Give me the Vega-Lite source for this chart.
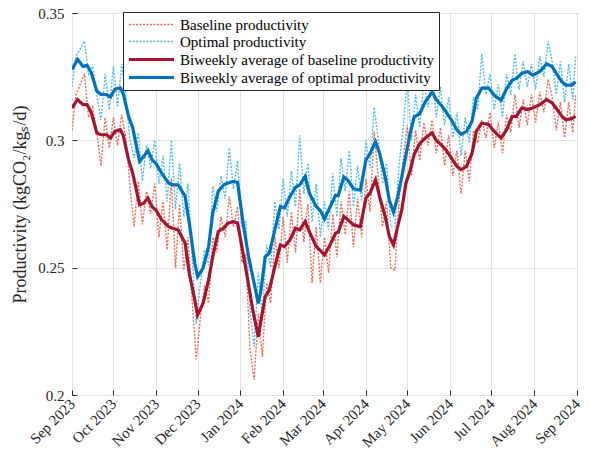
{
  "$schema": "https://vega.github.io/schema/vega-lite/v6.json",
  "autosize": {"type": "none"},
  "width": 505,
  "height": 382,
  "padding": {"left": 72, "top": 13, "right": 12, "bottom": 69},
  "background": "white",
  "config": {
    "font": "Liberation Serif",
    "view": {"stroke": "#262626", "strokeWidth": 1}
  },
  "datasets": {
    "daily": [
      {"date": "2023-09-01", "baseline": 0.304, "optimal": 0.321},
      {"date": "2023-09-04", "baseline": 0.318, "optimal": 0.333},
      {"date": "2023-09-07", "baseline": 0.322, "optimal": 0.336},
      {"date": "2023-09-10", "baseline": 0.326, "optimal": 0.339},
      {"date": "2023-09-13", "baseline": 0.309, "optimal": 0.326},
      {"date": "2023-09-16", "baseline": 0.313, "optimal": 0.329},
      {"date": "2023-09-19", "baseline": 0.303, "optimal": 0.318},
      {"date": "2023-09-22", "baseline": 0.290, "optimal": 0.308},
      {"date": "2023-09-25", "baseline": 0.309, "optimal": 0.326},
      {"date": "2023-09-28", "baseline": 0.297, "optimal": 0.312},
      {"date": "2023-10-01", "baseline": 0.309, "optimal": 0.329},
      {"date": "2023-10-04", "baseline": 0.298, "optimal": 0.313},
      {"date": "2023-10-07", "baseline": 0.310, "optimal": 0.330},
      {"date": "2023-10-10", "baseline": 0.301, "optimal": 0.318},
      {"date": "2023-10-13", "baseline": 0.282, "optimal": 0.300},
      {"date": "2023-10-16", "baseline": 0.266, "optimal": 0.293},
      {"date": "2023-10-19", "baseline": 0.284, "optimal": 0.303},
      {"date": "2023-10-22", "baseline": 0.267, "optimal": 0.284},
      {"date": "2023-10-25", "baseline": 0.280, "optimal": 0.298},
      {"date": "2023-10-28", "baseline": 0.271, "optimal": 0.289},
      {"date": "2023-10-31", "baseline": 0.283, "optimal": 0.300},
      {"date": "2023-11-03", "baseline": 0.262, "optimal": 0.283},
      {"date": "2023-11-06", "baseline": 0.276, "optimal": 0.294},
      {"date": "2023-11-09", "baseline": 0.257, "optimal": 0.276},
      {"date": "2023-11-12", "baseline": 0.285, "optimal": 0.300},
      {"date": "2023-11-15", "baseline": 0.250, "optimal": 0.273},
      {"date": "2023-11-18", "baseline": 0.275, "optimal": 0.291},
      {"date": "2023-11-21", "baseline": 0.249, "optimal": 0.270},
      {"date": "2023-11-24", "baseline": 0.262, "optimal": 0.283},
      {"date": "2023-11-27", "baseline": 0.238, "optimal": 0.255},
      {"date": "2023-11-30", "baseline": 0.214, "optimal": 0.228},
      {"date": "2023-12-03", "baseline": 0.230, "optimal": 0.244},
      {"date": "2023-12-06", "baseline": 0.243, "optimal": 0.257},
      {"date": "2023-12-09", "baseline": 0.236, "optimal": 0.251},
      {"date": "2023-12-12", "baseline": 0.262, "optimal": 0.282},
      {"date": "2023-12-15", "baseline": 0.256, "optimal": 0.272},
      {"date": "2023-12-18", "baseline": 0.270, "optimal": 0.286},
      {"date": "2023-12-21", "baseline": 0.262, "optimal": 0.277},
      {"date": "2023-12-24", "baseline": 0.278, "optimal": 0.297},
      {"date": "2023-12-27", "baseline": 0.266, "optimal": 0.281},
      {"date": "2023-12-30", "baseline": 0.274, "optimal": 0.292},
      {"date": "2024-01-02", "baseline": 0.252, "optimal": 0.266},
      {"date": "2024-01-05", "baseline": 0.255, "optimal": 0.268},
      {"date": "2024-01-08", "baseline": 0.218, "optimal": 0.233},
      {"date": "2024-01-11", "baseline": 0.206, "optimal": 0.219},
      {"date": "2024-01-14", "baseline": 0.232, "optimal": 0.248},
      {"date": "2024-01-17", "baseline": 0.215, "optimal": 0.231},
      {"date": "2024-01-20", "baseline": 0.244, "optimal": 0.259},
      {"date": "2024-01-23", "baseline": 0.236, "optimal": 0.250},
      {"date": "2024-01-26", "baseline": 0.262, "optimal": 0.276},
      {"date": "2024-01-29", "baseline": 0.250, "optimal": 0.265},
      {"date": "2024-02-01", "baseline": 0.270, "optimal": 0.285},
      {"date": "2024-02-04", "baseline": 0.252, "optimal": 0.270},
      {"date": "2024-02-07", "baseline": 0.272, "optimal": 0.288},
      {"date": "2024-02-10", "baseline": 0.256, "optimal": 0.274},
      {"date": "2024-02-13", "baseline": 0.281, "optimal": 0.302},
      {"date": "2024-02-16", "baseline": 0.260, "optimal": 0.279},
      {"date": "2024-02-19", "baseline": 0.275, "optimal": 0.291},
      {"date": "2024-02-22", "baseline": 0.244, "optimal": 0.268},
      {"date": "2024-02-25", "baseline": 0.266, "optimal": 0.283},
      {"date": "2024-02-28", "baseline": 0.244, "optimal": 0.262},
      {"date": "2024-03-02", "baseline": 0.262, "optimal": 0.276},
      {"date": "2024-03-05", "baseline": 0.248, "optimal": 0.265},
      {"date": "2024-03-08", "baseline": 0.271, "optimal": 0.287},
      {"date": "2024-03-11", "baseline": 0.254, "optimal": 0.270},
      {"date": "2024-03-14", "baseline": 0.276, "optimal": 0.293},
      {"date": "2024-03-17", "baseline": 0.263, "optimal": 0.280},
      {"date": "2024-03-20", "baseline": 0.280, "optimal": 0.296},
      {"date": "2024-03-23", "baseline": 0.258, "optimal": 0.274},
      {"date": "2024-03-26", "baseline": 0.277, "optimal": 0.290},
      {"date": "2024-03-29", "baseline": 0.262, "optimal": 0.276},
      {"date": "2024-04-01", "baseline": 0.285, "optimal": 0.300},
      {"date": "2024-04-04", "baseline": 0.272, "optimal": 0.289},
      {"date": "2024-04-07", "baseline": 0.3035, "optimal": 0.313},
      {"date": "2024-04-10", "baseline": 0.285, "optimal": 0.300},
      {"date": "2024-04-13", "baseline": 0.266, "optimal": 0.283},
      {"date": "2024-04-16", "baseline": 0.276, "optimal": 0.291},
      {"date": "2024-04-19", "baseline": 0.250, "optimal": 0.266},
      {"date": "2024-04-22", "baseline": 0.249, "optimal": 0.266},
      {"date": "2024-04-25", "baseline": 0.276, "optimal": 0.290},
      {"date": "2024-04-28", "baseline": 0.292, "optimal": 0.305},
      {"date": "2024-05-01", "baseline": 0.306, "optimal": 0.324},
      {"date": "2024-05-04", "baseline": 0.286, "optimal": 0.300},
      {"date": "2024-05-07", "baseline": 0.304, "optimal": 0.318},
      {"date": "2024-05-10", "baseline": 0.292, "optimal": 0.305},
      {"date": "2024-05-13", "baseline": 0.307, "optimal": 0.323},
      {"date": "2024-05-16", "baseline": 0.298, "optimal": 0.313},
      {"date": "2024-05-19", "baseline": 0.308, "optimal": 0.326},
      {"date": "2024-05-22", "baseline": 0.295, "optimal": 0.309},
      {"date": "2024-05-25", "baseline": 0.305, "optimal": 0.321},
      {"date": "2024-05-28", "baseline": 0.290, "optimal": 0.306},
      {"date": "2024-05-31", "baseline": 0.302, "optimal": 0.317},
      {"date": "2024-06-03", "baseline": 0.286, "optimal": 0.301},
      {"date": "2024-06-06", "baseline": 0.296, "optimal": 0.311},
      {"date": "2024-06-09", "baseline": 0.279, "optimal": 0.294},
      {"date": "2024-06-12", "baseline": 0.296, "optimal": 0.309},
      {"date": "2024-06-15", "baseline": 0.284, "optimal": 0.299},
      {"date": "2024-06-18", "baseline": 0.304, "optimal": 0.317},
      {"date": "2024-06-21", "baseline": 0.299, "optimal": 0.312},
      {"date": "2024-06-24", "baseline": 0.308, "optimal": 0.334},
      {"date": "2024-06-27", "baseline": 0.301, "optimal": 0.318},
      {"date": "2024-06-30", "baseline": 0.311, "optimal": 0.326},
      {"date": "2024-07-03", "baseline": 0.297, "optimal": 0.312},
      {"date": "2024-07-06", "baseline": 0.307, "optimal": 0.322},
      {"date": "2024-07-09", "baseline": 0.295, "optimal": 0.309},
      {"date": "2024-07-12", "baseline": 0.310, "optimal": 0.326},
      {"date": "2024-07-15", "baseline": 0.303, "optimal": 0.318},
      {"date": "2024-07-18", "baseline": 0.318, "optimal": 0.334},
      {"date": "2024-07-21", "baseline": 0.305, "optimal": 0.320},
      {"date": "2024-07-24", "baseline": 0.316, "optimal": 0.331},
      {"date": "2024-07-27", "baseline": 0.306, "optimal": 0.321},
      {"date": "2024-07-30", "baseline": 0.318, "optimal": 0.330},
      {"date": "2024-08-02", "baseline": 0.307, "optimal": 0.320},
      {"date": "2024-08-05", "baseline": 0.319, "optimal": 0.333},
      {"date": "2024-08-08", "baseline": 0.311, "optimal": 0.325},
      {"date": "2024-08-11", "baseline": 0.324, "optimal": 0.339},
      {"date": "2024-08-14", "baseline": 0.317, "optimal": 0.331},
      {"date": "2024-08-17", "baseline": 0.304, "optimal": 0.318},
      {"date": "2024-08-20", "baseline": 0.315, "optimal": 0.331},
      {"date": "2024-08-23", "baseline": 0.301, "optimal": 0.315},
      {"date": "2024-08-26", "baseline": 0.315, "optimal": 0.330},
      {"date": "2024-08-29", "baseline": 0.303, "optimal": 0.316},
      {"date": "2024-08-31", "baseline": 0.318, "optimal": 0.333}
    ],
    "avg": [
      {"date": "2023-09-01", "baseline_avg": 0.3127, "optimal_avg": 0.3278},
      {"date": "2023-09-05", "baseline_avg": 0.316, "optimal_avg": 0.3318},
      {"date": "2023-09-09", "baseline_avg": 0.314, "optimal_avg": 0.329},
      {"date": "2023-09-12", "baseline_avg": 0.314, "optimal_avg": 0.3294},
      {"date": "2023-09-15", "baseline_avg": 0.3108, "optimal_avg": 0.3265},
      {"date": "2023-09-19", "baseline_avg": 0.3029, "optimal_avg": 0.3193},
      {"date": "2023-09-22", "baseline_avg": 0.3022, "optimal_avg": 0.318},
      {"date": "2023-09-26", "baseline_avg": 0.3022, "optimal_avg": 0.318},
      {"date": "2023-09-29", "baseline_avg": 0.3009, "optimal_avg": 0.317},
      {"date": "2023-10-02", "baseline_avg": 0.3035, "optimal_avg": 0.32},
      {"date": "2023-10-06", "baseline_avg": 0.3042, "optimal_avg": 0.3206},
      {"date": "2023-10-08", "baseline_avg": 0.3022, "optimal_avg": 0.3186},
      {"date": "2023-10-12", "baseline_avg": 0.2924, "optimal_avg": 0.3094},
      {"date": "2023-10-15", "baseline_avg": 0.2871, "optimal_avg": 0.3049},
      {"date": "2023-10-20", "baseline_avg": 0.2747, "optimal_avg": 0.2917},
      {"date": "2023-10-23", "baseline_avg": 0.2753, "optimal_avg": 0.2937},
      {"date": "2023-10-26", "baseline_avg": 0.2773, "optimal_avg": 0.296},
      {"date": "2023-10-29", "baseline_avg": 0.274, "optimal_avg": 0.2924},
      {"date": "2023-11-01", "baseline_avg": 0.2725, "optimal_avg": 0.2908},
      {"date": "2023-11-05", "baseline_avg": 0.2688, "optimal_avg": 0.2871},
      {"date": "2023-11-10", "baseline_avg": 0.2661, "optimal_avg": 0.2832},
      {"date": "2023-11-13", "baseline_avg": 0.2655, "optimal_avg": 0.2825},
      {"date": "2023-11-17", "baseline_avg": 0.2648, "optimal_avg": 0.2825},
      {"date": "2023-11-22", "baseline_avg": 0.2596, "optimal_avg": 0.278},
      {"date": "2023-11-25", "baseline_avg": 0.2478, "optimal_avg": 0.2675},
      {"date": "2023-11-29", "baseline_avg": 0.2373, "optimal_avg": 0.2517},
      {"date": "2023-12-01", "baseline_avg": 0.2314, "optimal_avg": 0.2465},
      {"date": "2023-12-05", "baseline_avg": 0.236, "optimal_avg": 0.2498},
      {"date": "2023-12-09", "baseline_avg": 0.2452, "optimal_avg": 0.2583},
      {"date": "2023-12-12", "baseline_avg": 0.2543, "optimal_avg": 0.2714},
      {"date": "2023-12-16", "baseline_avg": 0.2642, "optimal_avg": 0.28},
      {"date": "2023-12-20", "baseline_avg": 0.2655, "optimal_avg": 0.2825},
      {"date": "2023-12-23", "baseline_avg": 0.2675, "optimal_avg": 0.2832},
      {"date": "2023-12-27", "baseline_avg": 0.2681, "optimal_avg": 0.2839},
      {"date": "2023-12-30", "baseline_avg": 0.2675, "optimal_avg": 0.2835},
      {"date": "2024-01-03", "baseline_avg": 0.2557, "optimal_avg": 0.2675},
      {"date": "2024-01-07", "baseline_avg": 0.2432, "optimal_avg": 0.2543},
      {"date": "2024-01-10", "baseline_avg": 0.2334, "optimal_avg": 0.2465},
      {"date": "2024-01-14", "baseline_avg": 0.2229, "optimal_avg": 0.236},
      {"date": "2024-01-16", "baseline_avg": 0.2294, "optimal_avg": 0.2412},
      {"date": "2024-01-19", "baseline_avg": 0.2386, "optimal_avg": 0.2543},
      {"date": "2024-01-22", "baseline_avg": 0.2412, "optimal_avg": 0.2557},
      {"date": "2024-01-26", "baseline_avg": 0.2504, "optimal_avg": 0.2648},
      {"date": "2024-01-30", "baseline_avg": 0.2589, "optimal_avg": 0.274},
      {"date": "2024-02-02", "baseline_avg": 0.2583, "optimal_avg": 0.2735},
      {"date": "2024-02-06", "baseline_avg": 0.2609, "optimal_avg": 0.278},
      {"date": "2024-02-10", "baseline_avg": 0.2655, "optimal_avg": 0.2815},
      {"date": "2024-02-13", "baseline_avg": 0.2648, "optimal_avg": 0.2825},
      {"date": "2024-02-17", "baseline_avg": 0.2681, "optimal_avg": 0.2858},
      {"date": "2024-02-20", "baseline_avg": 0.2642, "optimal_avg": 0.2793},
      {"date": "2024-02-25", "baseline_avg": 0.2583, "optimal_avg": 0.274},
      {"date": "2024-02-28", "baseline_avg": 0.2567, "optimal_avg": 0.2724},
      {"date": "2024-03-02", "baseline_avg": 0.255, "optimal_avg": 0.2692},
      {"date": "2024-03-06", "baseline_avg": 0.2589, "optimal_avg": 0.2738},
      {"date": "2024-03-10", "baseline_avg": 0.2635, "optimal_avg": 0.2784},
      {"date": "2024-03-12", "baseline_avg": 0.264, "optimal_avg": 0.2784},
      {"date": "2024-03-16", "baseline_avg": 0.2701, "optimal_avg": 0.2856},
      {"date": "2024-03-19", "baseline_avg": 0.2688, "optimal_avg": 0.2843},
      {"date": "2024-03-23", "baseline_avg": 0.2668, "optimal_avg": 0.281},
      {"date": "2024-03-28", "baseline_avg": 0.2661, "optimal_avg": 0.2804},
      {"date": "2024-04-01", "baseline_avg": 0.2773, "optimal_avg": 0.2922},
      {"date": "2024-04-04", "baseline_avg": 0.2793, "optimal_avg": 0.2948},
      {"date": "2024-04-08", "baseline_avg": 0.2845, "optimal_avg": 0.2994},
      {"date": "2024-04-11", "baseline_avg": 0.2777, "optimal_avg": 0.2948},
      {"date": "2024-04-15", "baseline_avg": 0.2701, "optimal_avg": 0.2856},
      {"date": "2024-04-18", "baseline_avg": 0.2622, "optimal_avg": 0.2764},
      {"date": "2024-04-21", "baseline_avg": 0.2589, "optimal_avg": 0.2718},
      {"date": "2024-04-24", "baseline_avg": 0.2661, "optimal_avg": 0.2777},
      {"date": "2024-04-27", "baseline_avg": 0.2727, "optimal_avg": 0.2856},
      {"date": "2024-04-30", "baseline_avg": 0.2832, "optimal_avg": 0.2942},
      {"date": "2024-05-03", "baseline_avg": 0.288, "optimal_avg": 0.3026},
      {"date": "2024-05-06", "baseline_avg": 0.2945, "optimal_avg": 0.3092},
      {"date": "2024-05-10", "baseline_avg": 0.2987, "optimal_avg": 0.3105},
      {"date": "2024-05-14", "baseline_avg": 0.3009, "optimal_avg": 0.3151},
      {"date": "2024-05-19", "baseline_avg": 0.3029, "optimal_avg": 0.319},
      {"date": "2024-05-22", "baseline_avg": 0.3, "optimal_avg": 0.316},
      {"date": "2024-05-26", "baseline_avg": 0.298, "optimal_avg": 0.3135},
      {"date": "2024-05-29", "baseline_avg": 0.2963, "optimal_avg": 0.3112},
      {"date": "2024-06-02", "baseline_avg": 0.293, "optimal_avg": 0.308},
      {"date": "2024-06-06", "baseline_avg": 0.2898, "optimal_avg": 0.304},
      {"date": "2024-06-09", "baseline_avg": 0.2885, "optimal_avg": 0.3024},
      {"date": "2024-06-13", "baseline_avg": 0.2898, "optimal_avg": 0.3035},
      {"date": "2024-06-17", "baseline_avg": 0.295, "optimal_avg": 0.3075},
      {"date": "2024-06-20", "baseline_avg": 0.3035, "optimal_avg": 0.3165},
      {"date": "2024-06-24", "baseline_avg": 0.3068, "optimal_avg": 0.3205},
      {"date": "2024-06-29", "baseline_avg": 0.3062, "optimal_avg": 0.3205},
      {"date": "2024-07-03", "baseline_avg": 0.3035, "optimal_avg": 0.3177},
      {"date": "2024-07-08", "baseline_avg": 0.3009, "optimal_avg": 0.3157},
      {"date": "2024-07-12", "baseline_avg": 0.3042, "optimal_avg": 0.3203},
      {"date": "2024-07-16", "baseline_avg": 0.3094, "optimal_avg": 0.3236},
      {"date": "2024-07-19", "baseline_avg": 0.3094, "optimal_avg": 0.3243},
      {"date": "2024-07-23", "baseline_avg": 0.3127, "optimal_avg": 0.3263},
      {"date": "2024-07-27", "baseline_avg": 0.3121, "optimal_avg": 0.327},
      {"date": "2024-07-31", "baseline_avg": 0.3127, "optimal_avg": 0.3256},
      {"date": "2024-08-05", "baseline_avg": 0.314, "optimal_avg": 0.327},
      {"date": "2024-08-10", "baseline_avg": 0.316, "optimal_avg": 0.33},
      {"date": "2024-08-14", "baseline_avg": 0.3147, "optimal_avg": 0.329},
      {"date": "2024-08-17", "baseline_avg": 0.3125, "optimal_avg": 0.3263},
      {"date": "2024-08-21", "baseline_avg": 0.3095, "optimal_avg": 0.323},
      {"date": "2024-08-24", "baseline_avg": 0.3081, "optimal_avg": 0.3217},
      {"date": "2024-08-28", "baseline_avg": 0.3085, "optimal_avg": 0.3217},
      {"date": "2024-08-31", "baseline_avg": 0.3094, "optimal_avg": 0.323}
    ]
  },
  "encoding": {
    "x": {
      "field": "date",
      "type": "temporal",
      "scale": {
        "type": "utc",
        "domain": [
          {"year": 2023, "month": 9, "date": 1, "utc": true},
          {"year": 2024, "month": 9, "date": 1, "utc": true}
        ],
        "nice": false
      },
      "axis": {
        "title": null,
        "format": "%b %Y",
        "tickCount": {"interval": "month", "step": 1},
        "labelAngle": -45,
        "labelAlign": "right",
        "labelBaseline": "middle",
        "labelFontSize": 15,
        "labelColor": "#262626",
        "labelPadding": 11,
        "labelOverlap": false,
        "labelFlush": false,
        "tickSize": -5,
        "tickColor": "#262626",
        "domain": false,
        "grid": true,
        "gridColor": "#e3e3e3",
        "gridWidth": 1
      }
    },
    "y": {
      "field": "value",
      "type": "quantitative",
      "scale": {"domain": [0.2, 0.35], "nice": false, "zero": false},
      "axis": {
        "title": "Productivity (kgCO₂/kgₛ/d)",
        "titleFontSize": 18,
        "titleFontWeight": "normal",
        "titleColor": "#262626",
        "titlePadding": 8,
        "values": [0.2, 0.25, 0.3, 0.35],
        "format": ".2~f",
        "labelFontSize": 15,
        "labelColor": "#262626",
        "labelPadding": 13,
        "tickSize": -5,
        "tickColor": "#262626",
        "domain": false,
        "grid": true,
        "gridColor": "#e3e3e3",
        "gridWidth": 1
      }
    },
    "color": {
      "field": "series",
      "type": "nominal",
      "scale": {
        "domain": ["baseline", "optimal", "baseline_avg", "optimal_avg"],
        "range": ["#EE6B55", "#4DBEEE", "#A2142F", "#0072BD"]
      },
      "legend": {
        "title": null,
        "orient": "none",
        "legendX": 51,
        "legendY": -1,
        "direction": "vertical",
        "fillColor": "white",
        "strokeColor": "#262626",
        "padding": 4,
        "rowPadding": 0,
        "symbolType": "M-1,0H5",
        "symbolSize": 225,
        "labelOffset": 34,
        "labelFontSize": 15,
        "labelColor": "#000000",
        "labelLimit": 400,
        "labelExpr": "datum.label == 'baseline' ? 'Baseline productivity' : datum.label == 'optimal' ? 'Optimal productivity' : datum.label == 'baseline_avg' ? 'Biweekly average of baseline productivity' : 'Biweekly average of optimal productivity'"
      }
    },
    "strokeDash": {
      "field": "series",
      "type": "nominal",
      "scale": {
        "domain": ["baseline", "optimal", "baseline_avg", "optimal_avg"],
        "range": [[2, 1.5], [2, 1.5], [1, 0], [1, 0]]
      }
    },
    "strokeWidth": {
      "field": "series",
      "type": "nominal",
      "scale": {
        "type": "ordinal",
        "domain": ["baseline", "optimal", "baseline_avg", "optimal_avg"],
        "range": [1.4, 1.4, 3.2, 3.2]
      }
    }
  },
  "layer": [
    {
      "data": {"name": "daily"},
      "transform": [{"fold": ["baseline", "optimal"], "as": ["series", "value"]}],
      "mark": {"type": "line", "clip": true}
    },
    {
      "data": {"name": "avg"},
      "transform": [{"fold": ["baseline_avg", "optimal_avg"], "as": ["series", "value"]}],
      "mark": {"type": "line", "clip": true}
    }
  ]
}
